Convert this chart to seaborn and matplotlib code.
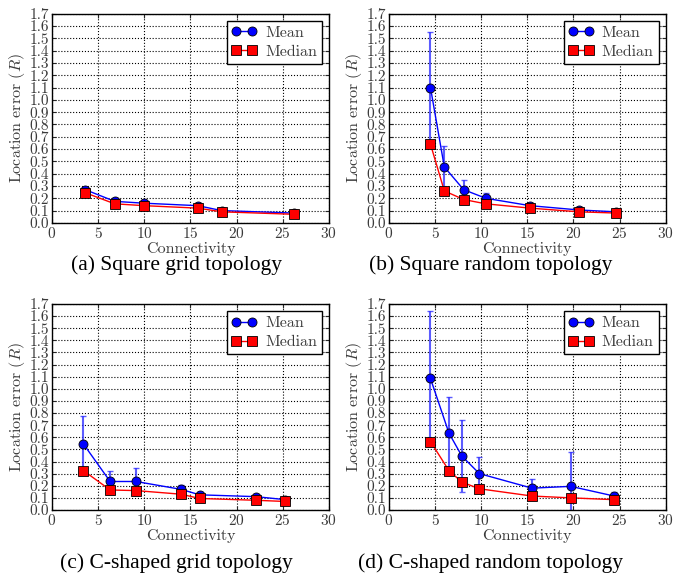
import matplotlib
matplotlib.use('Agg')
import matplotlib.pyplot as plt
import seaborn as sns
import pandas as pd

# (a) Square grid topology
a_conn = [3.6, 6.8, 10.0, 15.8, 18.4, 26.2]
a_mean = [0.27, 0.175, 0.16, 0.14, 0.10, 0.08]
a_median = [0.245, 0.155, 0.14, 0.12, 0.09, 0.07]
a_err = [0.02, 0.015, 0.015, 0.015, 0.01, 0.01]

# (b) Square random topology
b_conn = [4.5, 6.0, 8.1, 10.5, 15.3, 20.6, 24.6]
b_mean = [1.10, 0.455, 0.27, 0.20, 0.14, 0.105, 0.09]
b_median = [0.64, 0.26, 0.19, 0.155, 0.12, 0.09, 0.08]
b_err = [0.45, 0.17, 0.08, 0.045, 0.01, 0.01, 0.01]

# (c) C-shaped grid topology
c_conn = [3.4, 6.3, 9.1, 14.0, 16.0, 22.1, 25.3]
c_mean = [0.545, 0.235, 0.235, 0.17, 0.125, 0.11, 0.085]
c_median = [0.325, 0.165, 0.16, 0.13, 0.095, 0.08, 0.07]
c_err = [0.23, 0.085, 0.11, 0.035, 0.025, 0.01, 0.01]

# (d) C-shaped random topology
d_conn = [4.5, 6.5, 7.9, 9.8, 15.5, 19.7, 24.4]
d_mean = [1.085, 0.635, 0.445, 0.30, 0.18, 0.195, 0.115]
d_median = [0.565, 0.325, 0.23, 0.175, 0.115, 0.10, 0.085]
d_err = [0.555, 0.30, 0.295, 0.14, 0.075, 0.28, 0.035]

captions = ['(a) Square grid topology', '(b) Square random topology',
            '(c) C-shaped grid topology', '(d) C-shaped random topology']

sns.set_style('ticks')
plt.rcParams['font.family'] = ['cmr10', 'DejaVu Serif']
plt.rcParams['mathtext.fontset'] = 'cm'
plt.rcParams['axes.formatter.use_mathtext'] = True

fig = plt.figure(figsize=(6.8, 5.73), dpi=100)

panels = [
    (a_conn, a_mean, a_median, a_err, [0.0765, 0.611, 0.407, 0.365], (0.26, 0.5375)),
    (b_conn, b_mean, b_median, b_err, [0.572, 0.611, 0.407, 0.365], (0.722, 0.5375)),
    (c_conn, c_mean, c_median, c_err, [0.0765, 0.110, 0.407, 0.3595], (0.26, 0.0175)),
    (d_conn, d_mean, d_median, d_err, [0.572, 0.110, 0.407, 0.3595], (0.722, 0.0175)),
]

txt = '#3a3a3a'
for i, (conn, mean, median, err, pos, cap) in enumerate(panels):
    ax = fig.add_axes(pos)
    df = pd.DataFrame({'conn': conn, 'mean': mean, 'median': median})
    ax.errorbar(df['conn'], df['mean'], yerr=err, fmt='none', ecolor='#3333ff',
                elinewidth=1.5, capsize=2, capthick=1, alpha=0.8, zorder=2)
    sns.lineplot(data=df, x='conn', y='mean', ax=ax, color='blue', lw=1,
                 marker='o', markersize=6.5, markerfacecolor='blue',
                 markeredgecolor='black', markeredgewidth=0.6, label='Mean',
                 sort=False, zorder=3)
    sns.lineplot(data=df, x='conn', y='median', ax=ax, color='red', lw=1,
                 marker='s', markersize=6.5, markerfacecolor='red',
                 markeredgecolor='black', markeredgewidth=0.6, label='Median',
                 sort=False, zorder=3)
    ax.set_xlim(0, 30)
    ax.set_ylim(0, 1.7)
    ax.set_xticks(range(0, 31, 5))
    ax.set_yticks([k / 10 for k in range(18)])
    ax.set_yticklabels(['%.1f' % (k / 10) for k in range(18)])
    ax.grid(True, linestyle=':', color='black', linewidth=0.8)
    ax.tick_params(direction='in', top=True, right=True, length=3,
                   labelsize=11, labelcolor=txt, pad=2)
    for s in ax.spines.values():
        s.set_linewidth(1)
        s.set_color('black')
    ax.set_xlabel('Connectivity', fontsize=11.5, color=txt, labelpad=1)
    ax.set_ylabel(r'Location error $(R)$', fontsize=11.5, color=txt, labelpad=2)
    leg = ax.legend(loc='upper right', numpoints=2, fancybox=False,
                    edgecolor='black', framealpha=1, fontsize=11.5,
                    handlelength=1.6, borderpad=0.3, labelspacing=0.3,
                    handletextpad=0.5, borderaxespad=0.45)
    leg.get_frame().set_linewidth(1)
    for t in leg.get_texts():
        t.set_color(txt)
    fig.text(cap[0], cap[1], captions[i], ha='center', va='center',
             fontsize=15.5, family='Liberation Serif', color='black')

plt.savefig('out.png', dpi=100)
